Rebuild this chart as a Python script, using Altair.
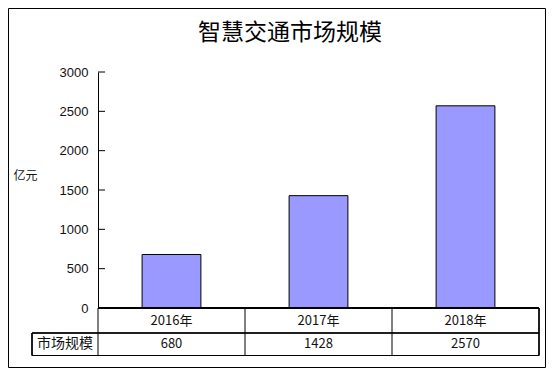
import altair as alt
import pandas as pd

title_text = "智慧交通市场规模"
years = ["2016年", "2017年", "2018年"]
values = [680, 1428, 2570]
row_label = "市场规模"
y_unit = "亿元"
y_ticks = [0, 500, 1000, 1500, 2000, 2500, 3000]

W, H = 441, 236
PL, PT = 90, 64
TOTAL_W, TOTAL_H = 538, 360
CJK = "Noto Sans CJK SC"

df = pd.DataFrame({"year": years, "value": values, "label": [str(v) for v in values]})
tick_df = pd.DataFrame({"t": y_ticks})

xscale = alt.Scale(domain=years, paddingInner=0, paddingOuter=0)
yscale = alt.Scale(domain=[0, 3000], nice=False)

yaxis = alt.Axis(values=y_ticks, format="d", labelOverlap=False,
                 ticks=False, grid=False, domain=True,
                 domainColor="black", domainWidth=1, labelPadding=10,
                 labelFont="Liberation Sans", labelFontSize=13, labelColor="#111",
                 title=y_unit, titleAngle=0, titleX=-73, titleY=103,
                 titleAlign="center", titleBaseline="middle",
                 titleFont=CJK, titleFontSize=12, titleFontWeight="normal",
                 titleColor="#111")

base = alt.Chart(df)

bars = base.mark_bar(width={"band": 0.4}, color="#9999FF", stroke="black", strokeWidth=1).encode(
    x=alt.X("year:N", scale=xscale, axis=None, sort=years),
    y=alt.Y("value:Q", scale=yscale, axis=yaxis),
)

ticks = alt.Chart(tick_df).mark_rule(color="black", strokeWidth=1).encode(
    y=alt.Y("t:Q", scale=yscale, axis=yaxis), x=alt.value(0), x2=alt.value(7)
)

zero_line = base.mark_rule(color="black", strokeWidth=2).encode(
    y=alt.Y(datum=0, scale=yscale, axis=yaxis), x=alt.value(0), x2=alt.value(W)
)

# table column separators
col_lines = base.mark_rule(color="black", strokeWidth=1).encode(
    x=alt.X("year:N", scale=xscale, sort=years, bandPosition=0, axis=None),
    y=alt.value(H), y2=alt.value(283.5),
)
right_line = base.mark_rule(color="black", strokeWidth=1).encode(
    x=alt.value(W), y=alt.value(H), y2=alt.value(283.5)
)
left_line = base.mark_rule(color="black", strokeWidth=1).encode(
    x=alt.value(-66), y=alt.value(261), y2=alt.value(283.5)
)
h_line1 = base.mark_rule(color="black", strokeWidth=1).encode(
    x=alt.value(-66), x2=alt.value(W), y=alt.value(261)
)
h_line2 = base.mark_rule(color="black", strokeWidth=1).encode(
    x=alt.value(-66), x2=alt.value(W), y=alt.value(283.5)
)

cat_text = base.mark_text(font=CJK, fontSize=13, color="#111", baseline="middle").encode(
    x=alt.X("year:N", scale=xscale, sort=years, bandPosition=0.5, axis=None),
    y=alt.value(248.5), text="year:N"
)
val_text = base.mark_text(font=CJK, fontSize=13, color="#111", baseline="middle").encode(
    x=alt.X("year:N", scale=xscale, sort=years, bandPosition=0.5, axis=None),
    y=alt.value(272), text="label:N"
)
row_text = alt.Chart(pd.DataFrame({"t": [row_label]})).mark_text(
    font=CJK, fontSize=14, color="#111", baseline="middle", align="center"
).encode(x=alt.value(-33), y=alt.value(272), text="t:N")

title = alt.Chart(pd.DataFrame({"t": [title_text]})).mark_text(
    font=CJK, fontSize=23, fontWeight="normal", color="black", baseline="middle", align="center"
).encode(x=alt.value(192), y=alt.value(-39.5), text="t:N")

border = alt.Chart(pd.DataFrame({"a": [0]})).mark_rect(
    fill="transparent", stroke="black", strokeWidth=1
).encode(
    x=alt.value(-PL + 0.5), x2=alt.value(TOTAL_W - PL - 0.5),
    y=alt.value(-PT + 0.5), y2=alt.value(TOTAL_H - PT - 0.5),
)

chart = alt.layer(
    border, bars, zero_line, ticks, col_lines, right_line, left_line, h_line1, h_line2,
    cat_text, val_text, row_text, title
).properties(
    width=W, height=H,
    background="white",
    autosize=alt.AutoSizeParams(type="none"),
    padding={"left": PL, "top": PT, "right": TOTAL_W - PL - W, "bottom": TOTAL_H - PT - H},
).configure_view(stroke="transparent", strokeWidth=0)

chart.save("out.html", embed_options={"renderer": "svg", "actions": False})
